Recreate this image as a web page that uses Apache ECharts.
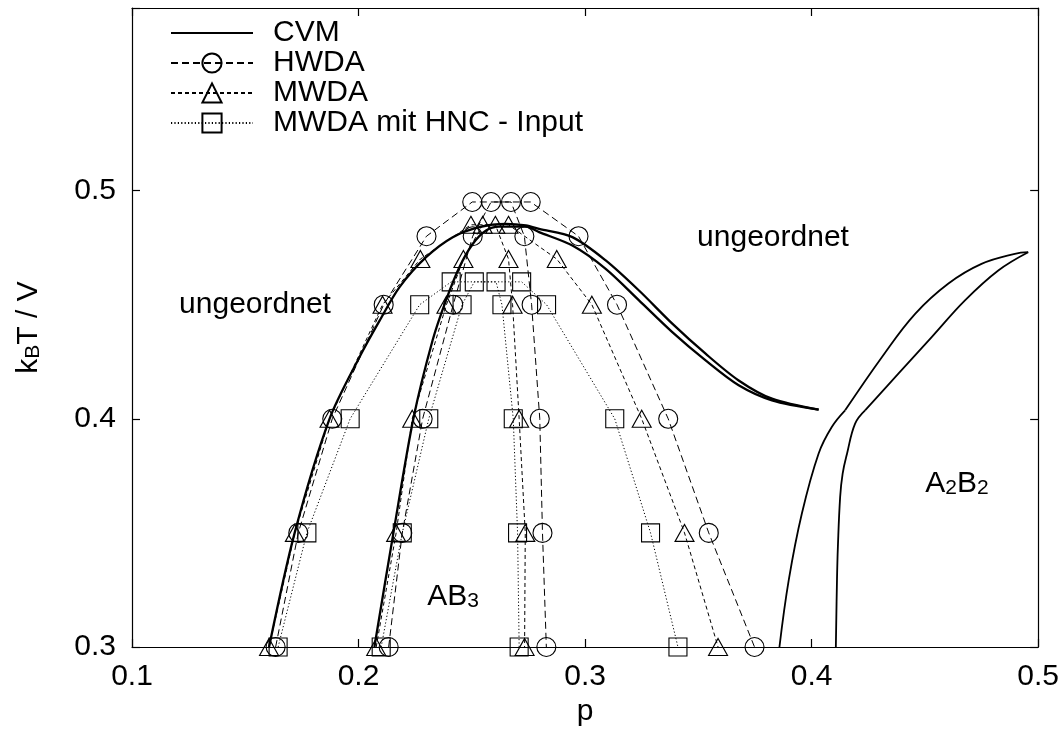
<!DOCTYPE html>
<html>
<head>
<meta charset="utf-8">
<script src="https://cdn.jsdelivr.net/npm/echarts@6/dist/echarts.min.js"></script>
<style>html,body{margin:0;padding:0;background:#fff}#c{width:1062px;height:740px}</style>
</head>
<body>
<div id="c"></div>
<script>
// ---- data (p, kBT/V) ----
const xTicks = [0.1, 0.2, 0.3, 0.4, 0.5];
const yTicks = [0.3, 0.4, 0.5];
const legendNames = ['CVM', 'HWDA', 'MWDA', 'MWDA mit HNC - Input'];

const cvmDomeOuter = [[0.1605,0.300],[0.1718,0.350],[0.1872,0.400],[0.2004,0.427],[0.2093,0.443],[0.2181,0.4577],[0.2298,0.4708],[0.2416,0.4796],[0.2533,0.4840],[0.2651,0.4854],[0.2739,0.4847],[0.2797,0.4832],[0.2944,0.4796],[0.3091,0.4694],[0.3238,0.4562],[0.3385,0.4417],[0.3532,0.4285],[0.3678,0.4168],[0.3825,0.4088],[0.4031,0.4040]];
const cvmDomeInner = [[0.2070,0.300],[0.2154,0.350],[0.2242,0.400],[0.2327,0.4344],[0.2386,0.4519],[0.2445,0.4664],[0.2504,0.4766],[0.2563,0.4825],[0.2621,0.4842],[0.2739,0.4842],[0.2797,0.4818],[0.2944,0.4759],[0.3091,0.4657],[0.3238,0.4519],[0.3385,0.4380],[0.3532,0.4256],[0.3678,0.4147],[0.3825,0.4081],[0.4031,0.4040]];
const cvmA2B2LeftLower = [[0.3858,0.300],[0.3899,0.3293],[0.3957,0.3585],[0.4031,0.3848],[0.4089,0.3964],[0.4148,0.4037]];
const cvmA2B2LeftUpper = [[0.4148,0.4037],[0.4310,0.4270],[0.4457,0.4460],[0.4604,0.4593],[0.4750,0.4679],[0.4897,0.4723],[0.4956,0.4730]];
const cvmA2B2RightLower = [[0.4107,0.300],[0.4112,0.3293],[0.4116,0.3439],[0.4126,0.3658],[0.4137,0.3760],[0.4156,0.3846],[0.4192,0.3979],[0.4236,0.4037]];
const cvmA2B2RightUpper = [[0.4236,0.4037],[0.4383,0.4198],[0.4530,0.4358],[0.4677,0.4519],[0.4824,0.4650],[0.4956,0.4730]];

const hwdaOuter = [[0.1634,0.30],[0.1734,0.35],[0.1884,0.40],[0.2111,0.45],[0.2300,0.48],[0.2502,0.495],[0.2760,0.495],[0.2971,0.48],[0.3141,0.45],[0.3367,0.40],[0.3546,0.35],[0.3748,0.30]];
const hwdaInner = [[0.2133,0.30],[0.2193,0.35],[0.2283,0.40],[0.2418,0.45],[0.2504,0.48],[0.2585,0.495],[0.2673,0.495],[0.2732,0.48],[0.2764,0.45],[0.2800,0.40],[0.2812,0.35],[0.2829,0.30]];

const mwdaOuter = [[0.1605,0.30],[0.1719,0.35],[0.1872,0.40],[0.2106,0.45],[0.2273,0.47],[0.2496,0.485],[0.2662,0.485],[0.2875,0.47],[0.3030,0.45],[0.3250,0.40],[0.3439,0.35],[0.3587,0.30]];
const mwdaInner = [[0.2078,0.30],[0.2166,0.35],[0.2237,0.40],[0.2388,0.45],[0.2463,0.47],[0.2548,0.485],[0.2604,0.485],[0.2662,0.47],[0.2680,0.45],[0.2709,0.40],[0.2736,0.35],[0.2733,0.30]];

const hncOuter = [[0.1645,0.30],[0.1772,0.35],[0.1963,0.40],[0.2270,0.45],[0.2409,0.46],[0.2720,0.46],[0.2830,0.45],[0.3131,0.40],[0.3289,0.35],[0.3410,0.30]];
const hncInner = [[0.2100,0.30],[0.2193,0.35],[0.2310,0.40],[0.2457,0.45],[0.2511,0.46],[0.2607,0.46],[0.2633,0.45],[0.2683,0.40],[0.2702,0.35],[0.2709,0.30]];

// region labels: [p, kBT/V, rich text]
const regionLabels = [
  [0.1544, 0.4497, '{m|ungeordnet}'],
  [0.3828, 0.4794, '{m|ungeordnet}'],
  [0.2419, 0.3217, '{m|AB}{s|3}'],
  [0.4643, 0.3713, '{m|A}{s|2}{m|B}{s|2}']
];

// ---- chart ----
const FONT = 'Liberation Sans, Arial, Helvetica, sans-serif';
const black = '#000000';
const richStyles = {
  m: {fontSize: 30, lineHeight: 30, fontFamily: FONT, color: black, textBorderWidth: 0},
  s: {fontSize: 21, lineHeight: 10, verticalAlign: 'bottom', fontFamily: FONT, color: black, textBorderWidth: 0}
};

function cvmSeries(data, width, smooth) {
  return {
    name: 'CVM', type: 'line', data: data, symbol: 'none', smooth: smooth,
    lineStyle: {color: black, width: width, type: 'solid'},
    itemStyle: {color: black}, clip: false, silent: true, z: 3
  };
}
function markSeries(name, data, symbol, dash) {
  return {
    name: name, type: 'line', data: data, symbol: symbol,
    symbolSize: symbol === 'rect' ? 18 : (symbol === 'triangle' ? [19, 17] : 19),
    showSymbol: true, smooth: false, clip: false, silent: true,
    lineStyle: {color: black, width: 1, type: dash},
    itemStyle: {color: 'rgba(0,0,0,0)', borderColor: black, borderWidth: 1.1},
    emphasis: {disabled: true}, z: 2
  };
}

const axisCommon = {
  type: 'value',
  axisLine: {show: true, onZero: false, lineStyle: {color: black, width: 1.2}},
  axisTick: {show: true, inside: true, length: 8, lineStyle: {color: black, width: 1.2}},
  splitLine: {show: false}
};

const chart = echarts.init(document.getElementById('c'), null, {renderer: 'canvas'});
chart.setOption({
  animation: false,
  backgroundColor: '#fff',
  textStyle: {fontFamily: FONT},
  grid: {left: 132, right: 22, top: 8, bottom: 93, containLabel: false},
  legend: {
    data: legendNames.map((n, i) => i === 0 ? {name: n, itemStyle: {opacity: 0}} : n),
    orient: 'vertical', left: 170, top: 18, padding: 0,
    itemWidth: 82, itemHeight: 24, itemGap: 0,
    textStyle: {fontSize: 30, lineHeight: 30, color: black, fontFamily: FONT, padding: [0, 0, 0, 15]},
    selectedMode: false
  },
  xAxis: [
    Object.assign({}, axisCommon, {
      position: 'bottom', min: xTicks[0], max: xTicks[xTicks.length - 1], interval: 0.1,
      name: 'p', nameLocation: 'middle', nameGap: 50,
      nameTextStyle: {fontSize: 30, color: black, fontFamily: FONT},
      axisLabel: {show: true, fontSize: 30, color: black, margin: 15, fontFamily: FONT,
        formatter: v => v.toFixed(1)}
    }),
    Object.assign({}, axisCommon, {
      position: 'top', min: xTicks[0], max: xTicks[xTicks.length - 1], interval: 0.1,
      axisLabel: {show: false}
    })
  ],
  yAxis: [
    Object.assign({}, axisCommon, {
      position: 'left', min: yTicks[0], max: 0.58, interval: 0.1,
      name: 'k{s|B}T / V', nameLocation: 'middle', nameGap: 88, nameRotate: 90,
      nameTextStyle: {fontSize: 30, lineHeight: 30, color: black, fontFamily: FONT, rich: {s: richStyles.s}},
      axisLabel: {show: true, fontSize: 30, color: black, margin: 16, fontFamily: FONT,
        formatter: v => (Math.abs(v * 10 - Math.round(v * 10)) < 1e-6 ? v.toFixed(1) : '')}
    }),
    Object.assign({}, axisCommon, {
      position: 'right', min: yTicks[0], max: 0.58, interval: 0.1,
      axisLabel: {show: false}
    })
  ],
  series: [
    cvmSeries(cvmDomeOuter, 2.3, 0.3),
    cvmSeries(cvmDomeInner, 2.3, 0.3),
    cvmSeries(cvmA2B2LeftLower, 1.8, 0.4),
    cvmSeries(cvmA2B2LeftUpper, 1.8, 0.4),
    cvmSeries(cvmA2B2RightLower, 1.8, 0.4),
    cvmSeries(cvmA2B2RightUpper, 1.8, 0.4),
    markSeries('HWDA', hwdaOuter, 'circle', [7, 4]),
    markSeries('HWDA', hwdaInner, 'circle', [7, 4]),
    markSeries('MWDA', mwdaOuter, 'triangle', [4, 3]),
    markSeries('MWDA', mwdaInner, 'triangle', [4, 3]),
    markSeries('MWDA mit HNC - Input', hncOuter, 'rect', [1.2, 2.2]),
    markSeries('MWDA mit HNC - Input', hncInner, 'rect', [1.2, 2.2]),
    {
      name: 'labels', type: 'scatter', symbolSize: 0, silent: true, clip: false,
      itemStyle: {color: black, opacity: 1},
      data: regionLabels.map(r => ({value: [r[0], r[1]], label: {formatter: r[2]}})),
      label: {show: true, position: [0, 0], align: 'center', verticalAlign: 'middle',
        rich: richStyles, color: black, opacity: 1, textBorderWidth: 0},
      labelLayout: p => ({
        x: Math.round(p.rect.x + p.rect.width / 2),
        y: Math.round(p.rect.y + p.rect.height / 2),
        align: 'center', verticalAlign: 'middle'
      })
    }
  ]
});
</script>
</body>
</html>
